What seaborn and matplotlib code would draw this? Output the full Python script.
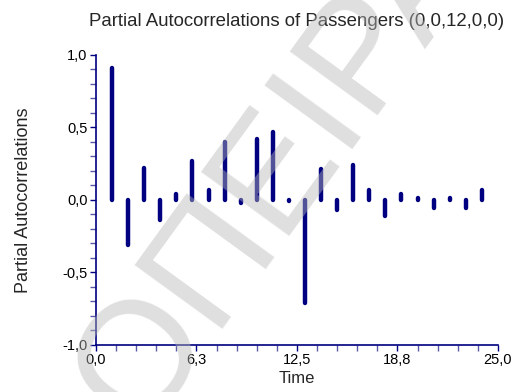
import matplotlib.pyplot as plt
import matplotlib as mpl
from matplotlib.ticker import MultipleLocator
import seaborn as sns
import pandas as pd

sns.set_theme(style="ticks")
plt.rcParams['font.family'] = ['Liberation Sans', 'DejaVu Sans']
mpl.rcParams['axes.unicode_minus'] = False

# partial autocorrelations by lag
lags = list(range(1, 25))
pacf = [0.91, -0.31, 0.22, -0.14, 0.04, 0.27, 0.07, 0.40, -0.02, 0.42, 0.47, -0.01,
        -0.71, 0.21, -0.07, 0.24, 0.07, -0.11, 0.04, 0.01, -0.055, 0.01, -0.055, 0.065]

xticks = [0, 6.25, 12.5, 18.75, 25]
xtick_labels = ["0,0", "6,3", "12,5", "18,8", "25,0"]
yticks = [-1.0, -0.5, 0.0, 0.5, 1.0]
ytick_labels = ["-1,0", "-0,5", "0,0", "0,5", "1,0"]

navy = "#000080"

# each lag becomes a vertical stick from 0 to its value
rows = []
for lag, v in zip(lags, pacf):
    rows.append({"lag": lag, "pacf": 0.0})
    rows.append({"lag": lag, "pacf": v})
df = pd.DataFrame(rows)

fig = plt.figure(figsize=(5.16, 3.92), dpi=100)
ax = fig.add_axes([0.186, 0.120, 0.779, 0.740])

sns.lineplot(data=df, x="lag", y="pacf", units="lag", estimator=None, sort=False,
             color=navy, linewidth=3.2, solid_capstyle="round", ax=ax)

ax.set_xlim(0, 25)
ax.set_ylim(-1, 1)
ax.set_xticks(xticks, xtick_labels)
ax.set_yticks(yticks, ytick_labels)
ax.xaxis.set_minor_locator(MultipleLocator(1.25))
ax.yaxis.set_minor_locator(MultipleLocator(0.1))
ax.tick_params(which="both", direction="out", color=navy, length=4, width=1,
               labelsize=10.5, labelcolor="black", pad=2)
ax.tick_params(which="minor", color="#5a5aa8")

sns.despine(ax=ax)
for s in ["left", "bottom"]:
    ax.spines[s].set_color(navy)
    ax.spines[s].set_linewidth(1.2)

ax.set_title("Partial Autocorrelations of Passengers (0,0,12,0,0)", fontsize=13.4, pad=21)
ax.set_xlabel("Time", fontsize=12)
ax.xaxis.set_label_coords(0.5, -0.09)
ax.xaxis.label.set_va("top")
ax.set_ylabel("")
fig.text(24 / 516, 1 - 200 / 392, "Partial Autocorrelations", rotation=90,
         ha="center", va="center", fontsize=13)

# faint watermark over everything
fig.text(0.542, 0.565, "ΟΠΕΙΡΑ", rotation=54, ha="center", va="center",
         fontsize=114, color="#b8b8b8", alpha=0.45, zorder=10)

fig.savefig("out.png", dpi=100)
